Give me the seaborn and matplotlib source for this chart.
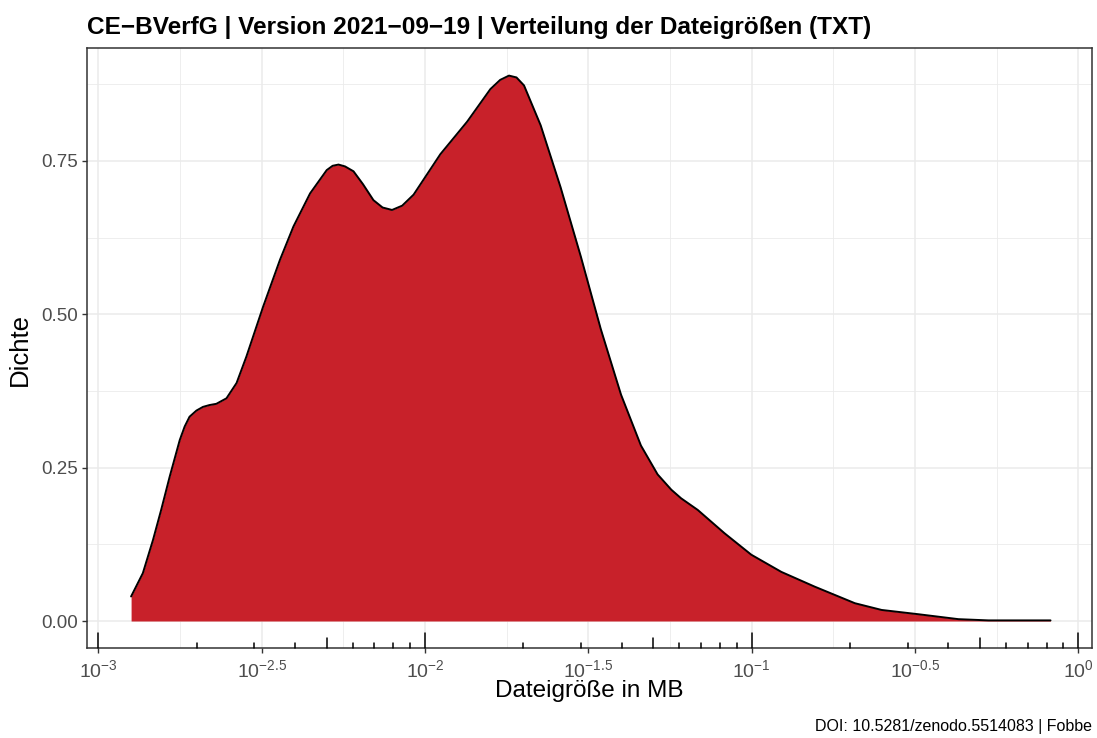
import numpy as np
import matplotlib
matplotlib.use("Agg")
import matplotlib.pyplot as plt
import matplotlib.transforms as mtransforms
import seaborn as sns

# Density curve (x = log10 of file size in MB)
log_groesse = [-2.900, -2.864, -2.833, -2.808, -2.782, -2.751, -2.736, -2.721,
               -2.700, -2.680, -2.660, -2.639, -2.608, -2.577, -2.547, -2.496,
               -2.444, -2.403, -2.352, -2.301, -2.283, -2.265, -2.245, -2.219,
               -2.190, -2.158, -2.130, -2.101, -2.070, -2.035, -1.953, -1.871,
               -1.800, -1.770, -1.743, -1.720, -1.697, -1.646, -1.585, -1.523,
               -1.462, -1.400, -1.339, -1.288, -1.246, -1.216, -1.165, -1.083,
               -1.001, -0.909, -0.807, -0.684, -0.602, -0.489, -0.367, -0.275,
               -0.180, -0.085]
dichte = [0.040, 0.078, 0.132, 0.181, 0.235, 0.295, 0.317, 0.333,
          0.343, 0.349, 0.352, 0.354, 0.363, 0.388, 0.431, 0.512,
          0.589, 0.643, 0.697, 0.735, 0.742, 0.744, 0.741, 0.733,
          0.712, 0.686, 0.674, 0.670, 0.677, 0.695, 0.761, 0.814,
          0.867, 0.882, 0.889, 0.886, 0.873, 0.808, 0.707, 0.594,
          0.476, 0.369, 0.286, 0.239, 0.214, 0.200, 0.181, 0.143,
          0.108, 0.080, 0.056, 0.029, 0.018, 0.011, 0.003, 0.001,
          0.001, 0.001]

x_exponenten = [-3, -2.5, -2, -1.5, -1, -0.5, 0]
x_labels = ['$10^{-3}$', '$10^{-2.5}$', '$10^{-2}$', '$10^{-1.5}$',
            '$10^{-1}$', '$10^{-0.5}$', '$10^{0}$']
y_ticks = [0, 0.25, 0.5, 0.75]
y_labels = ['0.00', '0.25', '0.50', '0.75']

sns.set_style("white")
plt.rcParams['font.family'] = ['Liberation Sans', 'DejaVu Sans']
plt.rcParams['mathtext.fontset'] = 'custom'
plt.rcParams['mathtext.rm'] = 'Liberation Sans'
plt.rcParams['mathtext.it'] = 'Liberation Sans'
plt.rcParams['mathtext.default'] = 'regular'

W, H = 1097, 738
fig = plt.figure(figsize=(W / 100, H / 100), dpi=100)
ax = fig.add_axes([87 / W, 1 - 648 / H, (1092 - 87) / W, 600 / H])

groesse = 10 ** np.array(log_groesse)
ax.set_xscale('log')
ax.fill_between(groesse, dichte, color='#c8212a', lw=0, zorder=2)
sns.lineplot(x=groesse, y=dichte, color='black', lw=1.4, ax=ax, zorder=3)
for l in ax.get_lines():
    l.set_solid_joinstyle('round')

ax.set_xlim(10 ** -3.035, 10 ** 0.042)
ax.set_ylim(-0.044, 0.934)

# grid (ggplot theme_bw style)
for e in np.arange(-3, 0.01, 0.25):
    is_major = abs(e * 2 - round(e * 2)) < 1e-9
    ax.axvline(10 ** e, color='#ebebeb', lw=1.1 if is_major else 0.6, zorder=0)
for v in np.arange(0, 0.9, 0.125):
    is_major = abs(v * 4 - round(v * 4)) < 1e-9
    ax.axhline(v, color='#ebebeb', lw=1.1 if is_major else 0.6, zorder=0)

ax.set_xticks([10 ** e for e in x_exponenten])
ax.set_xticklabels(x_labels)
ax.minorticks_off()
ax.set_yticks(y_ticks)
ax.set_yticklabels(y_labels)
ax.tick_params(axis='both', direction='out', length=3.8, width=1,
               color='#333333', labelcolor='#4d4d4d', labelsize=13.5, pad=3,
               bottom=True, left=True)
ax.tick_params(axis='x', labelsize=14, pad=4)

# log ticks along the bottom, inside the panel
trans = mtransforms.blended_transform_factory(ax.transData, ax.transAxes)
for dek in range(-3, 0):
    for m in range(1, 10):
        if m == 1:
            laenge = 15 / 600
        elif m == 5:
            laenge = 10 / 600
        else:
            laenge = 5 / 600
        ax.plot([m * 10 ** dek] * 2, [0, laenge], color='black', lw=1.1,
                transform=trans, clip_on=False, zorder=4)
ax.plot([1, 1], [0, 15 / 600], color='black', lw=1.1, transform=trans,
        clip_on=False, zorder=4)

for s in ax.spines.values():
    s.set_color('#333333')
    s.set_linewidth(1.1)
    s.set_visible(True)

ax.set_xlabel('Dateigröße in MB', fontsize=17.5, color='black')
ax.set_ylabel('Dichte', fontsize=18.5, color='black')
ax.xaxis.set_label_coords(0.5, (648 - 691) / 600)
ax.xaxis.label.set_va('center')
ax.yaxis.set_label_coords((20 - 87) / 1005, (648 - 350) / 600)
ax.yaxis.label.set_va('center')

fig.text(87 / W, 1 - 34 / H, 'CE−BVerfG | Version 2021−09−19 | Verteilung der Dateigrößen (TXT)',
         fontsize=17.6, fontweight='bold', color='black', ha='left', va='baseline')
fig.text(1092 / W, 1 - 731 / H, 'DOI: 10.5281/zenodo.5514083 | Fobbe',
         fontsize=11.5, color='black', ha='right', va='baseline')

fig.savefig('out.png', dpi=100)
